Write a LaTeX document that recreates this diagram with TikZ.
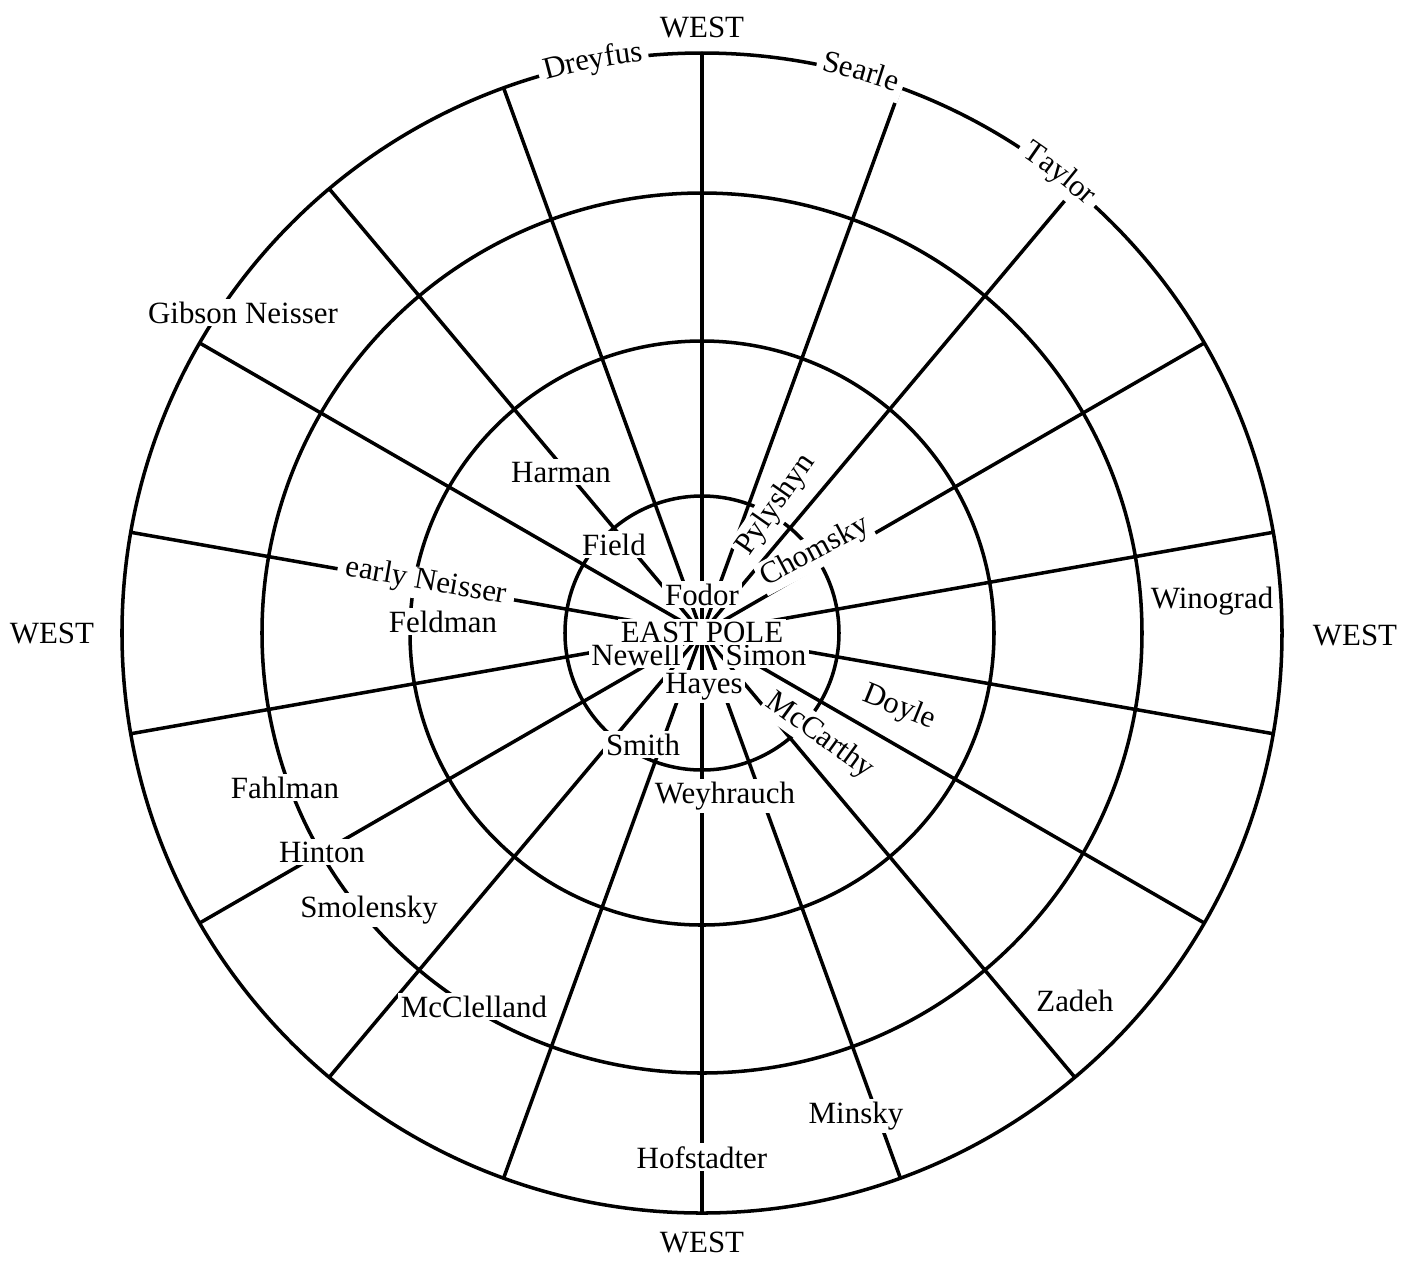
\documentclass[tikz,border=0pt]{standalone}
\usepackage{fontspec}
\setmainfont{Liberation Serif}
\usetikzlibrary{decorations.text}
\newcommand{\labfont}{\fontsize{8.8pt}{10pt}\selectfont}

\begin{document}
\begin{tikzpicture}[line width=1pt, font=\labfont, person/.style={fill=white, inner sep=0.8pt, anchor=base}, tilted/.style={fill=white, inner sep=0.8pt, rotate=#1}, rim/.style={draw=white, line width=9pt, postaction={decorate, decoration={text along path, text align=center, raise=-1.5pt, text={|\labfont|#1}}}}]
\useasboundingbox (-7.02,-6.33) rectangle (7.04,6.33);
\coordinate (hub) at (0,0);
% rings and spokes
\foreach \r in {1.37,2.92,4.40,5.80} \draw (hub) circle (\r);
\foreach \a in {10,30,...,350} {\coordinate (end\a) at (\a:5.80); \draw (hub) -- (end\a);}
% labels set along the lines
\path[rim=Dreyfus] (106.3:5.80) arc[start angle=106.3, end angle=95.3, radius=5.80];
\path[rim=Searle] (78.6:5.80) arc[start angle=78.6, end angle=69.8, radius=5.80];
\path[rim=Taylor] (56.8:5.80) arc[start angle=56.8, end angle=47.4, radius=5.80];
\path[rim=early Neisser] (170:3.70) -- (170:1.91);
% the four WESTs
\node[person] (westn) at (0,5.96) {WEST};
\node[person] (weste) at (6.53,-0.12) {WEST};
\node[person] (wests) at (0,-6.19) {WEST};
\node[person] (westw) at (-6.50,-0.10) {WEST};
% names
\node[person] (gibson) at (-4.59,3.10) {Gibson Neisser};
\node[person] (harman) at (-1.41,1.51) {Harman};
\node[person] (field) at (-0.88,0.78) {Field};
\node[person] (feldman) at (-2.59,0.01) {Feldman};
\node[person] (winograd) at (5.10,0.25) {Winograd};
\node[person] (fahlman) at (-4.17,-1.65) {Fahlman};
\node[person] (hinton) at (-3.80,-2.29) {Hinton};
\node[person] (smolensky) at (-3.33,-2.84) {Smolensky};
\node[person] (mcclelland) at (-2.28,-3.84) {McClelland};
\node[person] (hofstadter) at (0,-5.35) {Hofstadter};
\node[person] (minsky) at (1.54,-4.90) {Minsky};
\node[person] (zadeh) at (3.73,-3.78) {Zadeh};
\node[person] (smith) at (-0.59,-1.22) {Smith};
\node[person] (weyhrauch) at (0.23,-1.70) {Weyhrauch};
\node[tilted=55] (pylyshyn) at (0.74,1.28) {Pylyshyn};
\node[tilted=28] (chomsky) at (1.13,0.81) {Chomsky};
\node[tilted=-36] (mccarthy) at (1.18,-1.03) {McCarthy};
\node[tilted=-22] (doyle) at (1.97,-0.75) {Doyle};
% round the pole
\node[person] (hayes) at (0.02,-0.60) {Hayes};
\node[person] (newell) at (-0.66,-0.32) {Newell};
\node[person] (simon) at (0.64,-0.32) {Simon};
\node[person] (fodor) at (0,0.28) {Fodor};
\node[person] (pole) at (0,-0.09) {EAST POLE};
\end{tikzpicture}
\end{document}
